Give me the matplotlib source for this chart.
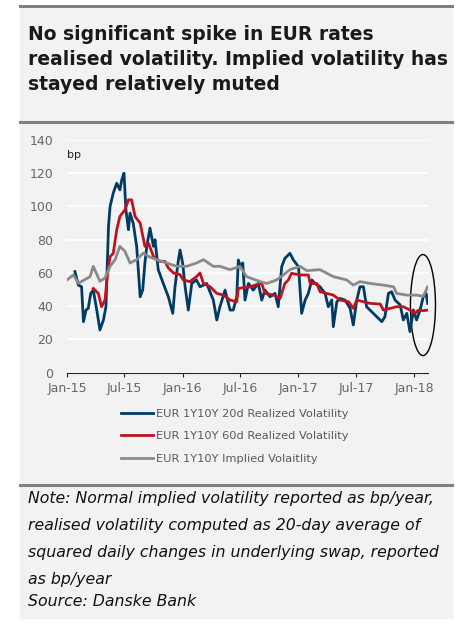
import pandas as pd
import matplotlib.pyplot as plt
import matplotlib.dates as mdates
from matplotlib.patches import Rectangle, Ellipse
from matplotlib.lines import Line2D

# EUR 1Y10Y 20d realised vol (bp)
rv20_dates = ["2015-01-26", "2015-02-06", "2015-02-16", "2015-02-22", "2015-03-02", "2015-03-09",
              "2015-03-17", "2015-03-25", "2015-04-05", "2015-04-15", "2015-04-26", "2015-05-04",
              "2015-05-12", "2015-05-17", "2015-05-27", "2015-06-07", "2015-06-17", "2015-06-23",
              "2015-06-30", "2015-07-06", "2015-07-14", "2015-07-19", "2015-07-29", "2015-08-09",
              "2015-08-20", "2015-08-28", "2015-09-04", "2015-09-10", "2015-09-20", "2015-10-01",
              "2015-10-06", "2015-10-16", "2015-11-01", "2015-11-17", "2015-12-01", "2015-12-08",
              "2015-12-19", "2015-12-24", "2016-01-01", "2016-01-09", "2016-01-19", "2016-01-30",
              "2016-02-14", "2016-02-25", "2016-03-17", "2016-04-07", "2016-04-18", "2016-04-28",
              "2016-05-14", "2016-05-30", "2016-06-09", "2016-06-20", "2016-06-25", "2016-07-02",
              "2016-07-09", "2016-07-16", "2016-07-27", "2016-08-11", "2016-08-27", "2016-09-07",
              "2016-09-17", "2016-10-03", "2016-10-19", "2016-10-29", "2016-11-09", "2016-11-19",
              "2016-12-05", "2016-12-16", "2017-01-01", "2017-01-11", "2017-01-22", "2017-02-01",
              "2017-02-12", "2017-02-22", "2017-03-10", "2017-03-26", "2017-04-05", "2017-04-16",
              "2017-04-21", "2017-05-02", "2017-05-12", "2017-05-28", "2017-06-13", "2017-06-23",
              "2017-07-04", "2017-07-14", "2017-07-25", "2017-08-04", "2017-08-20", "2017-09-05",
              "2017-09-21", "2017-10-01", "2017-10-12", "2017-10-22", "2017-11-02", "2017-11-18",
              "2017-11-28", "2017-12-09", "2017-12-19", "2017-12-30", "2018-01-09", "2018-01-20",
              "2018-01-30", "2018-02-08", "2018-02-13"]
rv20_vals = [60.8, 52.7, 51.7, 30.7, 37.7, 38.7,
             47.7, 49.7, 37.7, 25.7, 31.7, 39.7,
             87.8, 100, 108, 114, 110, 116,
             120, 98, 86, 96, 90, 76,
             45.7, 49.7, 66, 76, 87, 76,
             80, 62, 53.7, 45.7, 35.7, 51.7,
             68, 73.8, 66, 51.7, 37.7, 53.7,
             55.8, 51.7, 53.7, 43.7, 31.7, 39.7,
             49.7, 37.7, 37.7, 45.7, 67.8, 63.8,
             66, 43.7, 53.7, 49.7, 53.7, 43.7,
             49.7, 45.7, 47.7, 39.7, 63.8, 68.8,
             71.8, 67.8, 63.8, 35.7, 43.7, 47.7,
             55.8, 53.7, 51.7, 47.7, 39.7, 43.7,
             27.7, 42.7, 44.7, 43.7, 38.7, 28.7,
             43.7, 51.7, 51.7, 39.7, 36.7, 33.7,
             30.7, 33.7, 47.7, 48.7, 43.7, 40.8,
             31.7, 35.7, 24.7, 37.7, 31.7, 37.7,
             45.7, 47.7, 41.7]

# EUR 1Y10Y 60d realised vol (bp)
rv60_dates = ["2015-03-25", "2015-04-10", "2015-04-20", "2015-05-01", "2015-05-08", "2015-05-17",
              "2015-05-27", "2015-06-07", "2015-06-17", "2015-07-03", "2015-07-14", "2015-07-24",
              "2015-08-04", "2015-08-20", "2015-09-04", "2015-09-15", "2015-10-01", "2015-10-11",
              "2015-10-22", "2015-11-06", "2015-11-17", "2015-12-03", "2015-12-24", "2016-01-03",
              "2016-01-24", "2016-02-14", "2016-02-25", "2016-03-07", "2016-03-28", "2016-04-18",
              "2016-05-09", "2016-05-30", "2016-06-20", "2016-06-25", "2016-08-01", "2016-08-17",
              "2016-09-07", "2016-09-17", "2016-10-14", "2016-11-04", "2016-11-19", "2016-11-30",
              "2016-12-10", "2017-01-06", "2017-02-01", "2017-02-07", "2017-02-28", "2017-03-10",
              "2017-03-31", "2017-04-21", "2017-05-12", "2017-06-08", "2017-06-23", "2017-07-04",
              "2017-07-25", "2017-08-15", "2017-09-16", "2017-09-26", "2017-10-17", "2017-11-07",
              "2017-11-28", "2017-12-19", "2018-01-04", "2018-01-15", "2018-01-30", "2018-02-13"]
rv60_vals = [50.7, 47.7, 39.7, 43.7, 57.8, 69.8,
             71.8, 86, 94, 98, 104, 104,
             94, 90, 76, 78, 70, 68,
             67, 67, 63, 60, 59, 55.8,
             54.8, 57.8, 60, 53.7, 51.7, 47.7,
             46.7, 43.7, 42.7, 50.7, 51.7, 52.7,
             53.7, 47.7, 46.7, 44.7, 53.7, 55.8,
             59.8, 58.8, 58.8, 53.7, 53.7, 48.7,
             47.7, 46.7, 43.7, 42.7, 38.7, 43.7,
             42.7, 41.7, 41.3, 37.7, 38.7, 39.7,
             39.7, 37.7, 35.7, 37.7, 37.3, 37.7]

# EUR 1Y10Y implied vol (bp)
iv_dates = ["2015-01-01", "2015-01-21", "2015-02-06", "2015-03-15", "2015-03-25", "2015-04-15",
            "2015-05-01", "2015-05-17", "2015-06-02", "2015-06-17", "2015-07-03", "2015-07-19",
            "2015-08-09", "2015-08-30", "2015-09-15", "2015-10-11", "2015-11-12", "2015-12-13",
            "2016-01-14", "2016-02-14", "2016-03-07", "2016-04-07", "2016-04-28", "2016-05-30",
            "2016-06-30", "2016-07-21", "2016-09-02", "2016-09-23", "2016-10-24", "2016-11-14",
            "2016-12-05", "2017-01-06", "2017-01-27", "2017-03-10", "2017-04-21", "2017-06-02",
            "2017-06-23", "2017-07-14", "2017-08-15", "2017-09-26", "2017-10-28", "2017-11-07",
            "2017-12-09", "2018-01-09", "2018-01-30", "2018-02-13"]
iv_vals = [55.8, 58.8, 53.8, 57.8, 64, 55,
           57, 64, 68, 76, 73, 66,
           68, 72, 70, 68, 66, 64,
           64, 66, 68, 64, 64, 62,
           64, 57.8, 54.8, 53.7, 55.8, 58.8,
           62, 64, 61.4, 62, 57.8, 55.8,
           52.7, 54.8, 53.7, 52.7, 51.7, 47.7,
           46.7, 46.7, 46, 51.7]

labels = ["EUR 1Y10Y 20d Realized Volatility",
          "EUR 1Y10Y 60d Realized Volatility",
          "EUR 1Y10Y Implied Volaitlity"]
colors = ["#003b64", "#c0131e", "#8a8a8a"]

title = ("No significant spike in EUR rates\n"
         "realised volatility. Implied volatility has\n"
         "stayed relatively muted")
note = ["Note: Normal implied volatility reported as bp/year,",
        "realised volatility computed as 20-day average of",
        "squared daily changes in underlying swap, reported",
        "as bp/year"]
source = "Source: Danske Bank"

W, H = 456, 629
bg = "#f2f2f2"
fig = plt.figure(figsize=(W / 100, H / 100), dpi=100)
fig.patch.set_facecolor("white")


def fx(px):
    return px / W


def fy(py):
    return 1 - py / H


# panel backgrounds and rules
fig.patches.append(Rectangle((fx(20), fy(618)), fx(432), (618 - 6) / H,
                             transform=fig.transFigure, color=bg, zorder=-10))
for yy in [5.5, 121.5, 485]:
    fig.add_artist(Line2D([fx(20), fx(452)], [fy(yy), fy(yy)], color="#808080", lw=2.2))

fig.text(fx(28), fy(25), title, fontsize=13.5, fontweight="bold", family="DejaVu Sans",
         va="top", ha="left", linespacing=1.4, color="#1a1a1a")

ax = fig.add_axes([fx(67), fy(372.7), fx(427.7 - 67), (372.7 - 140) / H])
ax.set_facecolor(bg)

for d, v, c, lab in zip([rv20_dates, rv60_dates, iv_dates],
                        [rv20_vals, rv60_vals, iv_vals], colors, labels):
    ax.plot(pd.to_datetime(d), v, color=c, lw=2.0, label=lab)

ax.set_ylim(0, 140)
ax.set_yticks(range(0, 141, 20))
ax.set_xlim(pd.Timestamp("2015-01-01"), pd.Timestamp("2018-02-13"))
ax.xaxis.set_major_locator(mdates.MonthLocator(bymonth=[1, 7]))
ax.xaxis.set_major_formatter(mdates.DateFormatter("%b-%y"))
ax.grid(axis="y", color="white", lw=1.2)
ax.set_axisbelow(True)
for s in ["top", "right", "left"]:
    ax.spines[s].set_visible(False)
ax.spines["bottom"].set_color("#222222")
ax.tick_params(axis="y", length=0, labelsize=9, labelcolor="#666666", pad=10)
ax.tick_params(axis="x", length=3, color="#222222", labelsize=9, labelcolor="#666666", pad=4)
ax.text(0.0, 129, "bp", fontsize=8, color="#222222", transform=ax.get_yaxis_transform())

ax.add_patch(Ellipse((pd.Timestamp("2018-01-29"), 40.7), 79, 60.8,
                     fill=False, edgecolor="black", lw=1.0, clip_on=False))

fig.legend(loc="upper left", bbox_to_anchor=(fx(121), fy(409)), frameon=False,
           fontsize=8.2, handlelength=2.8, handletextpad=0.25, labelspacing=1.08,
           labelcolor="#595959", borderaxespad=0, borderpad=0)

y0 = 499
for i, line in enumerate(note):
    fig.text(fx(28), fy(y0 + i * 26.7), line, fontsize=11.3, style="italic",
             va="center", ha="left", color="#111111")
fig.text(fx(28), fy(601), source, fontsize=11.3, style="italic",
         va="center", ha="left", color="#111111")

fig.savefig("out.png", dpi=100, facecolor="white")
